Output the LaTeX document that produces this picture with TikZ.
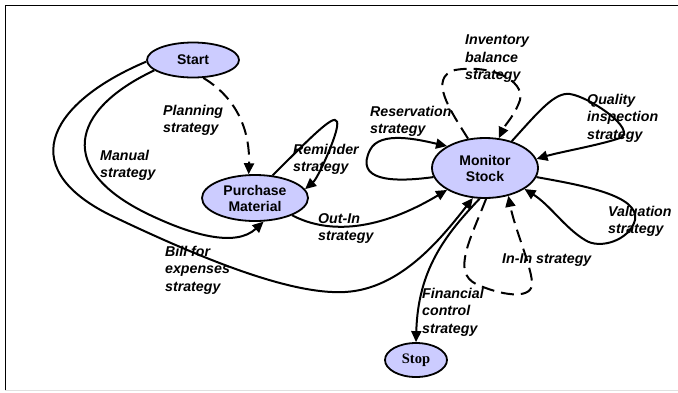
\documentclass[tikz,border=0pt]{standalone}
\usepackage{fontspec}
\setmainfont{Liberation Sans}
\newfontfamily\serifbold{Liberation Serif}
\usetikzlibrary{shapes.geometric,arrows.meta}
\definecolor{statefill}{RGB}{204,204,255}
\tikzset{
  state/.style={ellipse, draw=black, line width=1.8pt, fill=statefill, inner sep=0pt,
    font=\fontsize{14}{16}\selectfont\bfseries, align=center},
  lbl/.style={anchor=north west, inner sep=0pt, align=left,
    font=\fontsize{14.2}{17.5}\selectfont\bfseries\itshape},
  edge/.style={line width=2pt, -{Triangle[length=11pt,width=10pt]}},
  dashedge/.style={edge, dash pattern=on 13pt off 7pt}
}
\begin{document}
\begin{tikzpicture}[x=1pt,y=-1pt]
\useasboundingbox (0,0) rectangle (678,392);
\draw[line width=1pt] (678,5) -- (5,5) -- (5,390);
\draw[line width=1pt, black!12] (5,390) -- (678,390);

\node[state, minimum width=92pt, minimum height=35pt] (start) at (193,60) {Start};
\node[state, minimum width=106pt, minimum height=46pt] (purchase) at (255,198) {Purchase\\Material};
\node[state, minimum width=106pt, minimum height=60pt] (monitor) at (485,168) {Monitor\\Stock};
\node[state, minimum width=62pt, minimum height=34pt, font=\fontsize{14.5}{16}\serifbold\bfseries] (stop) at (416,360) {Stop};

% Planning strategy
\draw[dashedge] (start.-60) .. controls (240,100) and (250,135) .. (purchase.105);
% Manual strategy
\draw[edge] (start.195) .. controls (70,110) and (55,170) .. (150,215)
  .. controls (190,234) and (235,248) .. (purchase.-70);
% Bill for expenses strategy
\draw[edge] (start.182) .. controls (55,100) and (10,165) .. (110,215)
  .. controls (200,258) and (290,295) .. (345,292)
  .. controls (400,289) and (440,240) .. (monitor.-112);
% Financial control strategy
\draw[edge] (monitor.-100) .. controls (445,235) and (418,270) .. (stop.north);
% Reminder strategy
\draw[edge] (purchase.52) .. controls (320,128) and (340,108) .. (337,127)
  .. controls (335,140) and (318,178) .. (purchase.10);
% Out-In strategy
\draw[edge] (purchase.-25) .. controls (330,235) and (380,230) .. (monitor.210);
% Reservation strategy
\draw[edge] (monitor.190) .. controls (390,183) and (355,180) .. (370,150)
  .. controls (380,130) and (420,140) .. (monitor.150);
% Inventory balance strategy
\draw[dashedge] (monitor.120) .. controls (450,110) and (428,78) .. (455,70)
  .. controls (490,64) and (525,80) .. (520,100)
  .. controls (515,115) and (505,125) .. (monitor.65);
% Quality inspection strategy
\draw[edge] (monitor.45) .. controls (540,110) and (555,92) .. (570,94)
  .. controls (590,97) and (638,130) .. (620,138)
  .. controls (600,145) and (560,152) .. (monitor.10);
% Valuation strategy
\draw[edge] (monitor.-10) .. controls (580,185) and (640,195) .. (635,220)
  .. controls (630,240) and (600,250) .. (585,240)
  .. controls (565,228) and (550,205) .. (monitor.-28);
% In-In strategy
\draw[dashedge] (monitor.-88) .. controls (470,240) and (452,272) .. (476,284)
  .. controls (500,295) and (530,300) .. (532,285)
  .. controls (533,270) and (515,230) .. (monitor.-50);

\node[lbl] (lplan) at (163,105) {Planning\\strategy};
\node[lbl] (lmanual) at (100,150) {Manual\\strategy};
\node[lbl] (lremind) at (293,144) {Reminder\\strategy};
\node[lbl] (loutin) at (318,213) {Out-In\\strategy};
\node[lbl] (lreserv) at (370,106) {Reservation\\strategy};
\node[lbl] (linv) at (465,35) {Inventory\\balance\\strategy};
\node[lbl] (lqual) at (587,94) {Quality\\inspection\\strategy};
\node[lbl] (lval) at (608,206) {Valuation\\strategy};
\node[lbl] (linin) at (502,254) {In-In strategy};
\node[lbl] (lfin) at (422,288) {Financial\\control\\strategy};
\node[lbl] (lbill) at (165,246) {Bill for\\expenses\\strategy};
\end{tikzpicture}
\end{document}
